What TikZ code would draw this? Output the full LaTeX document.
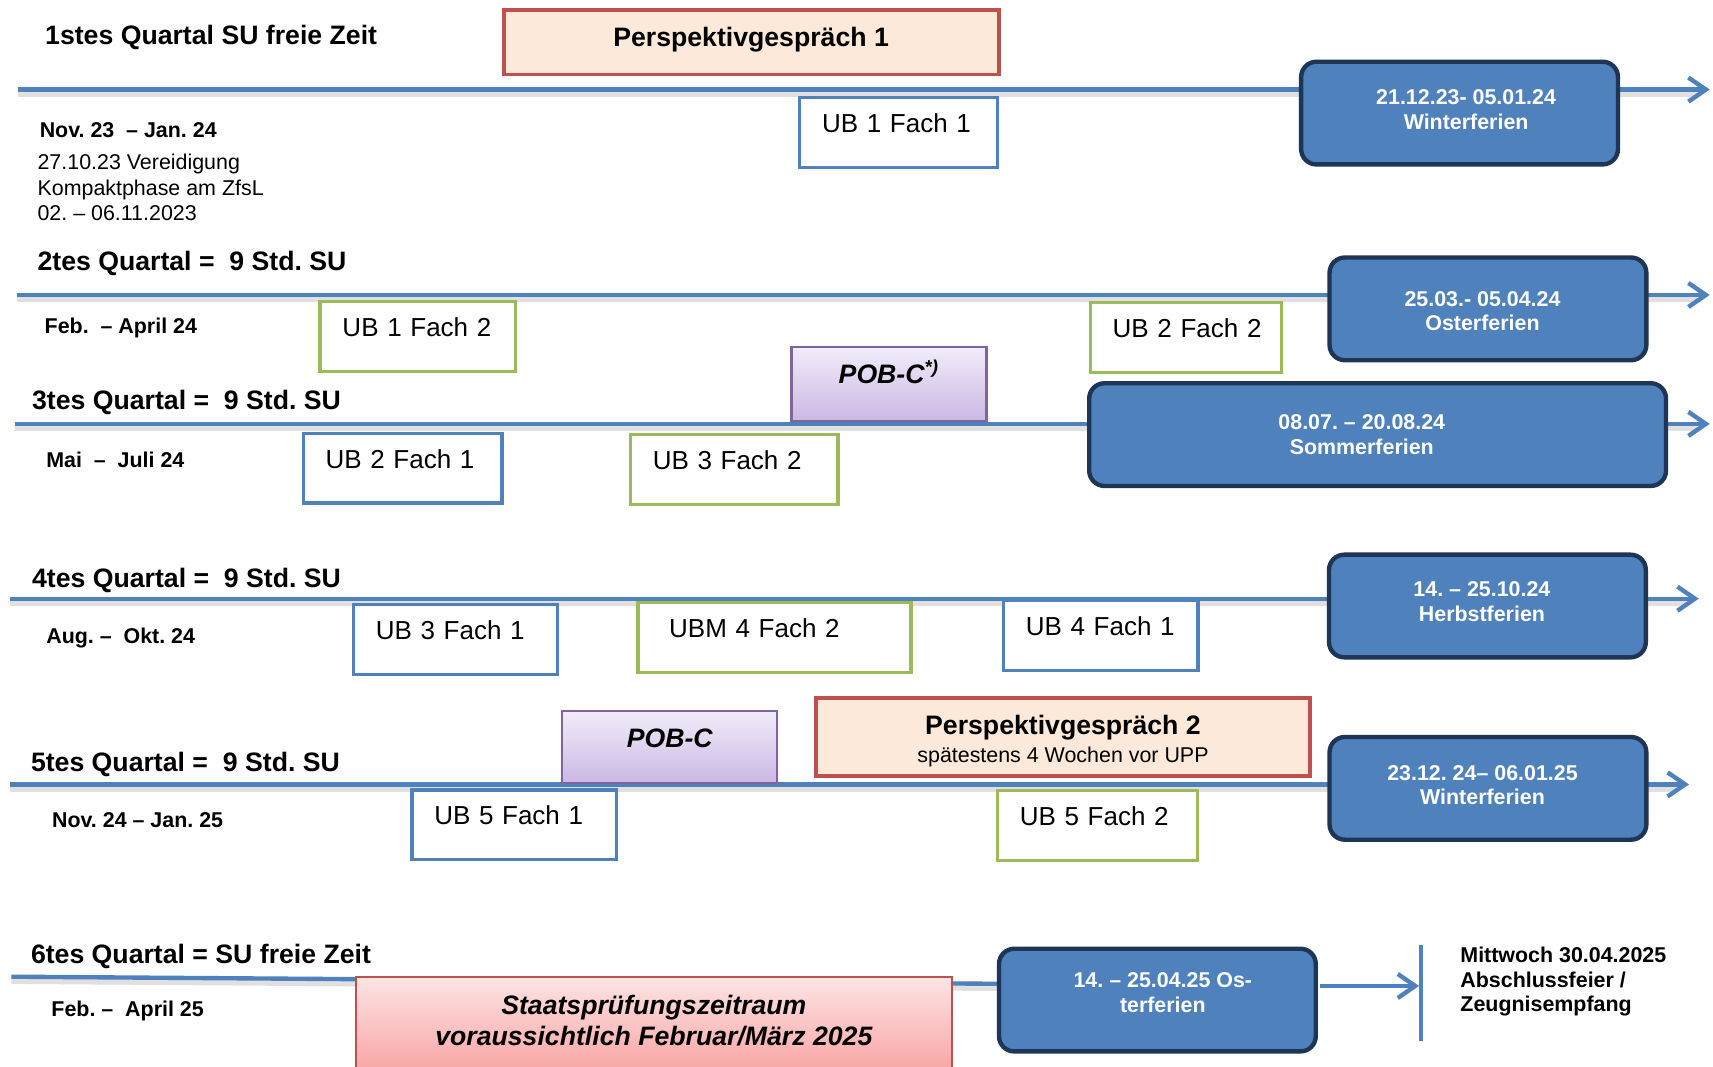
\documentclass[tikz,border=0pt]{standalone}
\usepackage{fontspec}
\setmainfont{Liberation Sans}
\usetikzlibrary{arrows.meta}

\definecolor{lineblue}{HTML}{4F81BD}
\definecolor{darknavy}{HTML}{1F3556}
\definecolor{fachgreen}{HTML}{9BBB59}
\definecolor{talkred}{HTML}{C0504D}
\definecolor{talkfill}{HTML}{FDE9D9}
\definecolor{pobline}{HTML}{8064A2}
\definecolor{pobtop}{HTML}{F1ECF9}
\definecolor{pobbottom}{HTML}{CBB8E3}
\definecolor{examtop}{HTML}{FDE4E4}
\definecolor{exambottom}{HTML}{F8A6A5}

\newcommand{\tlbig}{\fontsize{12.2pt}{13.8pt}\selectfont}
\newcommand{\tlmid}{\fontsize{11.9pt}{13.5pt}\selectfont}
\newcommand{\tlsmall}{\fontsize{9.8pt}{11.3pt}\selectfont}
% invisible struts that nudge a text block up (\lift) or down (\sink)
\newcommand{\lift}[1]{\rule[-#1]{0pt}{0pt}}
\newcommand{\sink}[1]{\rule{0pt}{#1}}
% padding that nudges a centred line left (\padr) or right (\padl)
\newcommand{\padr}[1]{\hspace*{#1}}
\newcommand{\padl}[1]{\hspace*{#1}}

\begin{document}
\frenchspacing
\begin{tikzpicture}[x=0.5pt, y=-0.5pt,
  axis/.style={draw=lineblue, line width=2pt},
  axisarrow/.style={axis, -{Straight Barb[length=8pt,width=11pt]}},
  axisshadow/.style={draw=black, opacity=0.12, line width=2.6pt, transform canvas={yshift=-2pt}},
  heading/.style={font=\tlbig\bfseries, anchor=base west, inner sep=0pt},
  period/.style={font=\tlsmall\bfseries, anchor=base west, inner sep=0pt},
  note/.style={font=\tlsmall, anchor=base west, inner sep=0pt},
  visit/.style={draw, fill=white, line width=1.5pt, anchor=north west,
    inner xsep=0pt, inner ysep=0pt, text width=#1, align=left,
    text height=16pt, text depth=16pt, font=\tlmid,
    execute at begin node={\noindent\hspace*{10.25pt}}},
  visitblue/.style={visit=#1, draw=lineblue},
  visitgreen/.style={visit=#1, draw=fachgreen},
  holiday/.style={draw=darknavy, fill=lineblue, line width=2pt, rounded corners=7pt,
    text=white, font=\tlsmall\bfseries, align=center, inner sep=0pt,
    minimum width=145pt, minimum height=47pt},
  talk/.style={draw=talkred, fill=talkfill, line width=1.8pt, inner sep=0pt},
  pob/.style={draw=pobline, line width=1pt, top color=pobtop, bottom color=pobbottom,
    font=\tlbig\bfseries\itshape, inner sep=0pt},
  exam/.style={draw=talkred, line width=1pt, top color=examtop, bottom color=exambottom,
    font=\tlbig\bfseries\itshape, align=center, inner sep=0pt}
]
\useasboundingbox (0,0) rectangle (1568,976);
\fill[white] (0,0) rectangle (1568,976);

% timeline axes
\coordinate (a1s) at (16.5,82);  \coordinate (a1e) at (1565,82);
\coordinate (a2s) at (16,270);   \coordinate (a2e) at (1565,270);
\coordinate (a3s) at (14,388);   \coordinate (a3e) at (1565,388);
\coordinate (a4s) at (9.5,548);  \coordinate (a4e) at (1555,548);
\coordinate (a5s) at (9.5,718);  \coordinate (a5e) at (1546,718);
\coordinate (a6s) at (10.5,894); \coordinate (a6e) at (913,900.5);
\coordinate (bartop) at (1300.5,865);
\coordinate (barbot) at (1300.5,952.5);
\coordinate (barhit) at (1299,902.5);

\foreach \r in {1,...,5}{
  \draw[axisshadow] (a\r s) -- ([xshift=-6pt]a\r e);
  \draw[axisarrow] (a\r s) -- (a\r e);
}
\draw[axisshadow] (a6s) -- (a6e);
\draw[axis] (a6s) -- (a6e);
\draw[axis] (bartop) -- (barbot);

% quarter headings and periods
\node[heading] (q1) at (41,40.7) {1stes Quartal SU freie Zeit};
\node[period] (p1) at (36,125.7) {Nov. 23 \ – Jan. 24};
\node[note] (n1) at (34,155.6) {27.10.23 Vereidigung};
\node[note] (n2) at (34,178.8) {Kompaktphase am ZfsL};
\node[note] (n3) at (34,201.6) {02. – 06.11.2023};

\node[heading] (q2) at (34,247.5) {2tes Quartal = \ 9 Std. SU};
\node[period] (p2) at (40.5,305) {Feb. \ – April 24};

\node[heading] (q3) at (29,375) {3tes Quartal = \ 9 Std. SU};
\node[period] (p3) at (42,428) {Mai \ – \ Juli 24};

\node[heading] (q4) at (29,538) {4tes Quartal = \ 9 Std. SU};
\node[period] (p4) at (42,589) {Aug. – \ Okt. 24};

\node[heading] (q5) at (28,706) {5tes Quartal = \ 9 Std. SU};
\node[period] (p5) at (47.3,757.3) {Nov. 24 – Jan. 25};

\node[heading] (q6) at (28,882) {6tes Quartal = SU freie Zeit};
\node[period] (p6) at (46.7,930.6) {Feb. – \ April 25};

% visits
\node[visitblue=90.5pt] (ub11) at (730.5,87.5) {UB 1 Fach 1};
\node[visitgreen=89.5pt] (ub12) at (291.5,274.5) {UB 1 Fach 2};
\node[visitgreen=87.5pt] (ub22) at (996.5,275.5) {UB 2 Fach 2};
\node[visitblue=91pt] (ub21) at (276,395) {UB 2 Fach 1};
\node[visitgreen=95pt] (ub32) at (575.5,396) {UB 3 Fach 2};
\node[visitblue=93.5pt] (ub31) at (322,552) {UB 3 Fach 1};
\node[visitgreen=125pt] (ubm42) at (582.5,550) {\hspace*{4pt}UBM 4 Fach 2};
\node[visitblue=89pt] (ub41) at (917,548) {UB 4 Fach 1};
\node[visitblue=93.5pt] (ub51) at (375.5,721.5) {UB 5 Fach 1};
\node[visitgreen=91.5pt] (ub52) at (911.5,722) {UB 5 Fach 2};

% holidays
\node[holiday] (winter1) at (1336,103.5)
  {\padl{6pt}21.12.23- 05.01.24\\\padl{6pt}Winterferien\lift{3pt}};
\node[holiday] (oster24) at (1362,282.7)
  {\sink{9pt}25.03.- 05.04.24\padr{5pt}\\Osterferien\padr{5pt}};
\node[holiday, minimum width=264pt] (sommer24) at (1261,397.8)
  {08.07. – 20.08.24\padr{14.5pt}\\Sommerferien\padr{14.5pt}};
\node[holiday] (herbst24) at (1361.5,554.7)
  {14. – 25.10.24\padr{5pt}\\Herbstferien\padr{5pt}\lift{4pt}};
\node[holiday] (winter2) at (1362,721.6)
  {23.12. 24– 06.01.25\padr{5pt}\\Winterferien\padr{5pt}\lift{3pt}};
\node[holiday] (oster25) at (1059.4,915.4)
  {\padl{5pt}14. – 25.04.25 Os-\\\padl{5pt}terferien\lift{7pt}};

% talks and observations
\node[talk, minimum width=226.5pt, text height=16.75pt, text depth=12.95pt,
  font=\tlbig\bfseries] (talk1) at (687.5,38.5) {Perspektivgespräch 1};
\node[talk, minimum width=226.4pt, minimum height=35.9pt, align=center,
  font=\tlsmall] (talk2) at (973,674.7)
  {{\tlbig\bfseries\sink{12.5pt}Perspektivgespräch 2}\\[1.5pt]spätestens 4 Wochen vor UPP};
\node[pob, minimum width=89.25pt, text height=16.75pt, text depth=17.25pt]
  (pob1) at (813.7,351.5) {POB-C\textsuperscript{*)}};
\node[pob, minimum width=98.5pt, text height=16.75pt, text depth=16pt]
  (pob2) at (613,683.8) {POB-C};

% exam period and final event
\node[exam, minimum width=273pt, minimum height=42.5pt] (exam) at (598.5,937)
  {Staatsprüfungszeitraum\\voraussichtlich Februar/März 2025\lift{3pt}};
\draw[axisarrow, shorten <=1pt] (oster25.east |- barhit) -- (barhit);

\node[period] (f1) at (1336.4,881.2) {Mittwoch 30.04.2025};
\node[period] (f2) at (1336.4,903.6) {Abschlussfeier /};
\node[period] (f3) at (1336.4,926) {Zeugnisempfang};
\end{tikzpicture}
\end{document}
